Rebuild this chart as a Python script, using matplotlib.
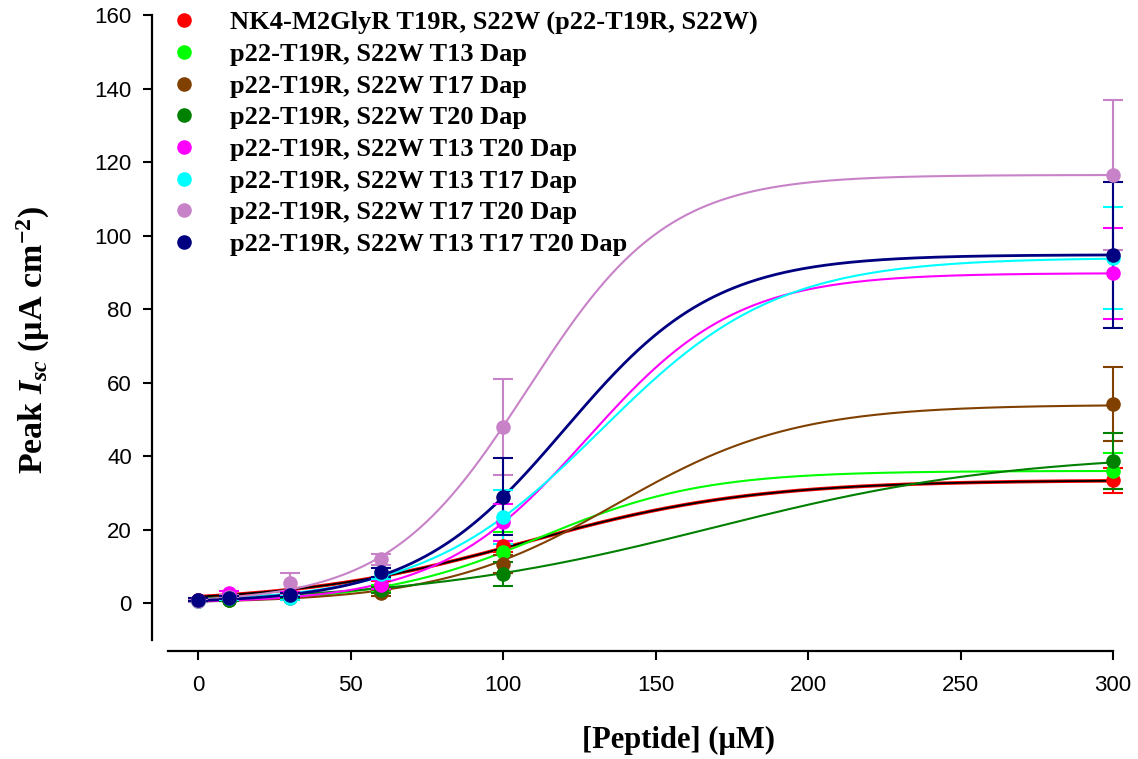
import numpy as np
import matplotlib
matplotlib.use('Agg')
import matplotlib.pyplot as plt

plt.rcParams['mathtext.fontset'] = 'custom'
plt.rcParams['mathtext.rm'] = 'Liberation Serif:bold'
plt.rcParams['mathtext.it'] = 'Liberation Serif:italic:bold'
plt.rcParams['mathtext.bf'] = 'Liberation Serif:bold'

# peptide concentration (uM)
conc = [0, 10, 30, 60, 100, 300]

labels = ['NK4-M2GlyR T19R, S22W (p22-T19R, S22W)',
	'p22-T19R, S22W T13 Dap',
	'p22-T19R, S22W T17 Dap',
	'p22-T19R, S22W T20 Dap',
	'p22-T19R, S22W T13 T20 Dap',
	'p22-T19R, S22W T13 T17 Dap',
	'p22-T19R, S22W T17 T20 Dap',
	'p22-T19R, S22W T13 T17 T20 Dap']
colors = ['#ff0000', '#00ff00', '#804000', '#008000',
	'#ff00ff', '#00ffff', '#c882c8', '#000080']

# mean peak Isc and error per peptide
isc_nk4 = [1.0, 1.5, 2.5, 5.0, 15.5, 33.5]
err_nk4 = [0.3, 0.4, 0.5, 1.0, 1.5, 3.4]
isc_t13 = [0.7, 1.2, 1.6, 4.0, 13.8, 36.0]
err_t13 = [0.3, 0.4, 0.5, 1.0, 5.5, 5.0]
isc_t17 = [0.6, 1.0, 1.5, 2.7, 10.7, 54.2]
err_t17 = [0.3, 0.3, 0.5, 0.8, 2.5, 10.0]
isc_t20 = [0.8, 1.0, 1.8, 3.5, 8.0, 38.8]
err_t20 = [0.3, 0.3, 0.5, 0.8, 3.2, 7.6]
isc_t13t20 = [0.9, 2.8, 2.5, 5.0, 22.0, 89.7]
err_t13t20 = [0.3, 0.5, 0.6, 1.2, 5.0, 12.5]
isc_t13t17 = [0.7, 1.3, 1.4, 8.0, 23.4, 94.0]
err_t13t17 = [0.3, 0.4, 0.5, 1.5, 7.3, 13.9]
isc_t17t20 = [0.5, 1.8, 5.4, 11.9, 48.0, 116.5]
err_t17t20 = [0.3, 0.5, 2.9, 1.5, 13.0, 20.5]
isc_all = [1.0, 1.5, 2.2, 8.4, 29.0, 94.8]
err_all = [0.3, 0.4, 0.6, 1.2, 10.5, 19.8]

means = [isc_nk4, isc_t13, isc_t17, isc_t20, isc_t13t20, isc_t13t17, isc_t17t20, isc_all]
errs = [err_nk4, err_t13, err_t17, err_t20, err_t13t20, err_t13t17, err_t17t20, err_all]

# sigmoid fit parameters: a / (1 + exp(-(x - x0) / b))
fit_a = [33.5, 36.0, 54.0, 41.0, 89.8, 94.0, 116.5, 94.8]
fit_x0 = [107.8, 112.3, 137.2, 168.6, 127.6, 131.9, 108.0, 120.2]
fit_b = [37.4, 26.6, 29.0, 49.5, 24.5, 28.9, 22.9, 24.6]

def sigmoid(x, a, x0, b):
	return a / (1 + np.exp(-(x - x0) / b))

fig = plt.figure(figsize=(11.38, 7.59), dpi=100)
ax = fig.add_axes([0.1476, 0.1568, 0.8304, 0.8234])

xx = np.linspace(0, 300, 400)
for i in range(len(labels)):
	lw = 2.0 if i == 7 else 1.5
	if i == 0:
		lw = 2.6
	ax.plot(xx, sigmoid(xx, fit_a[i], fit_x0[i], fit_b[i]), color=colors[i], lw=lw, zorder=2)
	if i == 0:
		# black fit drawn over the red one
		ax.plot(xx, sigmoid(xx, fit_a[i], fit_x0[i], fit_b[i]), color='black', lw=1.3, zorder=2)

handles = []
for i in range(len(labels)):
	eb = ax.errorbar(conc, means[i], yerr=errs[i], fmt='none', ecolor=colors[i],
		elinewidth=1.5, capsize=7, capthick=1.5, zorder=3)
	for art in eb.lines[1] + eb.lines[2]:
		art.set_clip_on(False)
	h, = ax.plot(conc, means[i], 'o', color=colors[i], markersize=10.5,
		markeredgewidth=0, label=labels[i], zorder=4, clip_on=False)
	handles.append(h)

ax.set_xlim(-10, 300)
ax.set_ylim(-10, 160)
ax.set_xticks([0, 50, 100, 150, 200, 250, 300])
ax.set_yticks(range(0, 161, 20))

for s in ['top', 'right']:
	ax.spines[s].set_visible(False)
ax.spines['left'].set_position(('outward', 11.5))
ax.spines['bottom'].set_position(('outward', 8))
ax.spines['left'].set_linewidth(1.6)
ax.spines['bottom'].set_linewidth(1.6)
ax.tick_params(axis='y', direction='out', length=6.5, width=1.5, pad=8)
ax.tick_params(axis='x', direction='out', length=6.5, width=1.5, pad=11)
for t in ax.get_xticklabels() + ax.get_yticklabels():
	t.set_fontfamily('Liberation Sans')
	t.set_fontsize(16)

ax.set_xlabel('[Peptide] (µM)', family='Liberation Serif', fontweight='bold',
	fontsize=22)
ax.xaxis.set_label_coords(0.54, -0.137)
ax.set_ylabel(r'Peak $I_{sc}$ (µA cm$^{\mathbf{-2}}$)', family='Liberation Serif',
	fontweight='bold', fontsize=24.5)
ax.yaxis.set_label_coords(-0.123, 0.48)

leg = ax.legend(handles=handles, loc='upper left', bbox_to_anchor=(-0.008, 1.024),
	frameon=False, handlelength=1.0, handletextpad=1.25, labelspacing=0.31,
	borderaxespad=0,
	prop={'family': 'Liberation Serif', 'weight': 'bold', 'size': 19})

plt.savefig('out.png', dpi=100)
